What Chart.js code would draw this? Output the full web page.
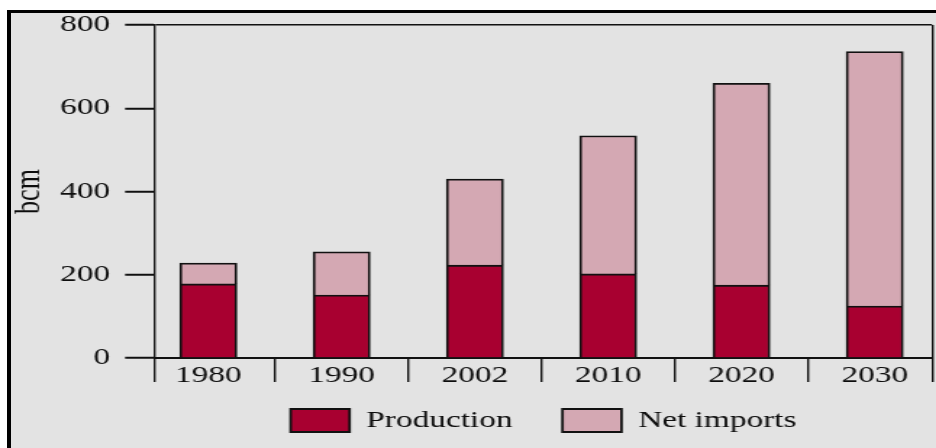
<!DOCTYPE html>
<html>
<head>
<meta charset="utf-8">
<script src="https://cdn.jsdelivr.net/npm/chart.js@4"></script>
<style>
  html, body { margin: 0; padding: 0; background: #fff; overflow: hidden; }
  #frame { position: absolute; left: 7px; top: 10px; width: 1000px; height: 500px;
           border-left: 4px solid #000; border-top: 3px solid #000; background: #e3e3e3; }
  /* the original picture is stretched sideways, so the chart is too */
  #gasChart { position: absolute; left: 0; top: 0; width: 646px; height: 448px;
              transform: scaleX(1.449); transform-origin: 0 0; }
</style>
</head>
<body>
<div id="frame"></div>
<canvas id="gasChart" width="646" height="448"></canvas>
<script>
const years = ['1980', '1990', '2002', '2010', '2020', '2030'];
const production = [178, 151, 223, 202, 175, 125];
const netImports = [50, 104, 207, 332, 485, 611];
const yTicks = [0, 200, 400, 600, 800];

const serif = "'Liberation Serif', 'DejaVu Serif', serif";
const ink = '#0d0d0d';
const line = '#111';

// x is linear so the first slot can be a bit narrower, like in the original
const xMin = -0.40, xMax = 5.43;
const toPoints = arr => arr.map((v, i) => ({ x: i, y: v }));

const ctx = document.getElementById('gasChart').getContext('2d');
new Chart(ctx, {
  type: 'bar',
  data: {
    datasets: [
      { label: 'Production', data: toPoints(production), backgroundColor: '#a80030',
        borderColor: line, borderWidth: 1.8, barThickness: 39.3 },
      { label: 'Net imports', data: toPoints(netImports), backgroundColor: '#d4a8b3',
        borderColor: line, borderWidth: 1.8, barThickness: 39.3 }
    ]
  },
  options: {
    responsive: false,
    animation: false,
    layout: { padding: { left: 2, right: 2.8, top: 25, bottom: 6 } },
    plugins: {
      tooltip: { enabled: false },
      legend: {
        position: 'bottom',
        fullSize: false,
        labels: { boxWidth: 40.7, boxHeight: 23, padding: 34.5, color: ink,
                  font: { family: serif, size: 23 } }
      }
    },
    scales: {
      x: {
        type: 'linear',
        stacked: true,
        offset: false,
        bounds: 'data',
        min: xMin,
        max: xMax,
        afterBuildTicks: s => {
          const t = [{ value: xMin }];
          years.forEach((y, i) => {
            t.push({ value: i });
            if (i < years.length - 1) t.push({ value: i + 0.5 });
          });
          t.push({ value: xMax });
          s.ticks = t;
        },
        afterFit: s => { s.height = 16.5; },
        ticks: {
          autoSkip: false, maxRotation: 0, mirror: true, padding: -31.8, color: ink,
          font: { family: serif, size: 23 },
          callback: v => Number.isInteger(v) ? years[v] : ''
        },
        grid: {
          offset: false,
          color: c => c.tick && c.tick.value === xMax ? line : 'transparent',
          lineWidth: 1.4,
          tickLength: 24,
          tickWidth: 1.4,
          tickColor: c => c.tick && Number.isInteger(c.tick.value) ? 'transparent' : line
        },
        border: { color: line, width: 2 }
      },
      y: {
        stacked: true,
        min: 0,
        max: 800,
        afterBuildTicks: s => { s.ticks = yTicks.map(v => ({ value: v })); },
        afterFit: s => { s.width = 105; },
        ticks: { padding: 10.4, color: ink, font: { family: serif, size: 23 } },
        grid: {
          color: c => c.tick && c.tick.value === 800 ? line : 'transparent',
          lineWidth: 1.5,
          tickLength: 20.7,
          tickWidth: 2,
          tickColor: line
        },
        border: { color: line, width: 1.4 },
        title: { display: true, text: 'bcm', color: ink,
                 font: { family: serif, size: 26 }, padding: { top: 2.6, bottom: 0 } }
      }
    }
  }
});
</script>
</body>
</html>
